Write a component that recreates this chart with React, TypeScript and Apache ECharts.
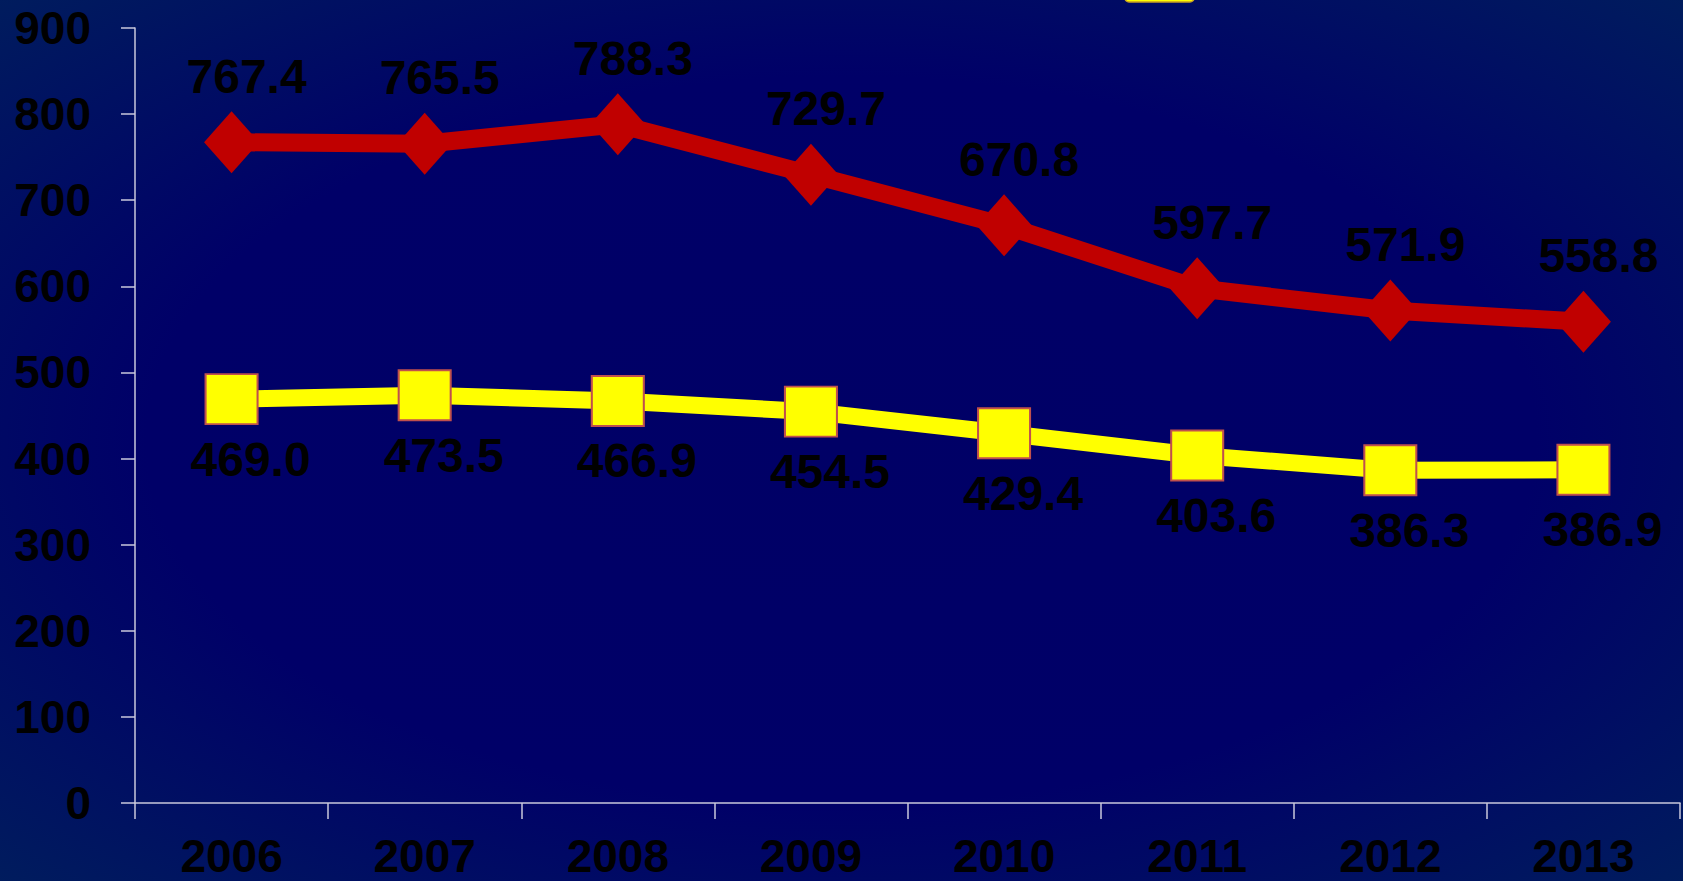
import React, { useEffect, useRef } from "react";
import * as echarts from "echarts";

const categories = ["2006", "2007", "2008", "2009", "2010", "2011", "2012", "2013"];
const redValues = [767.4, 765.5, 788.3, 729.7, 670.8, 597.7, 571.9, 558.8];
const yellowValues = [469.0, 473.5, 466.9, 454.5, 429.4, 403.6, 386.3, 386.9];
const yTicks = { min: 0, max: 900, interval: 100 };

const FONT = "'Liberation Sans', Arial, sans-serif";

export default function App() {
  const ref = useRef<HTMLDivElement>(null);
  useEffect(() => {
    document.body.style.margin = "0";
    if (!ref.current) return;
    const chart = echarts.init(ref.current, null, { renderer: "svg" });
    chart.setOption({
      animation: false,
      backgroundColor: new echarts.graphic.RadialGradient(0.5, 0.5, 0.75, [
        { offset: 0, color: "#000066" },
        { offset: 0.55, color: "#000068" },
        { offset: 1, color: "#00205c" },
      ]),
      grid: { left: 135, right: 3, top: 28, bottom: 78, containLabel: false },
      graphic: [
        {
          type: "rect",
          shape: { x: 1125, y: -40, width: 69, height: 42, r: 4 },
          style: { fill: "#ffff00", stroke: "#c8a020", lineWidth: 1.5 },
        },
      ],
      xAxis: {
        type: "category",
        data: categories,
        boundaryGap: true,
        axisLine: { show: true, lineStyle: { color: "#c8c8dc", width: 1.5 } },
        axisTick: { show: true, alignWithLabel: false, length: 16, lineStyle: { color: "#c8c8dc", width: 1.5 } },
        axisLabel: {
          color: "#000",
          fontSize: 46,
          fontWeight: "bold",
          fontFamily: FONT,
          margin: 30,
        },
        splitLine: { show: false },
      },
      yAxis: {
        type: "value",
        min: yTicks.min,
        max: yTicks.max,
        interval: yTicks.interval,
        axisLine: { show: true, lineStyle: { color: "#c8c8dc", width: 1.5 } },
        axisTick: { show: true, length: 14, lineStyle: { color: "#c8c8dc", width: 1.5 } },
        axisLabel: {
          color: "#000",
          fontSize: 46,
          fontWeight: "bold",
          fontFamily: FONT,
          margin: 44,
        },
        splitLine: { show: false },
      },
      series: [
        {
          name: "Series A",
          type: "line",
          data: redValues,
          symbol: "diamond",
          symbolSize: [55, 62],
          lineStyle: { color: "#c00000", width: 18 },
          itemStyle: { color: "#c00000" },
          label: {
            show: true,
            position: "inside",
            offset: [15, -66],
            color: "#000",
            fontSize: 48,
            fontWeight: "bold",
            fontFamily: FONT,
            formatter: (p: any) => Number(p.value).toFixed(1),
          },
          z: 3,
        },
        {
          name: "Series B",
          type: "line",
          data: yellowValues,
          symbol: "rect",
          symbolSize: [52, 50],
          lineStyle: { color: "#ffff00", width: 17 },
          itemStyle: { color: "#ffff00", borderColor: "#c0504d", borderWidth: 2 },
          label: {
            show: true,
            position: "inside",
            offset: [19, 60],
            color: "#000",
            fontSize: 48,
            fontWeight: "bold",
            fontFamily: FONT,
            formatter: (p: any) => Number(p.value).toFixed(1),
          },
          z: 2,
        },
      ],
    });
    return () => chart.dispose();
  }, []);
  return <div ref={ref} style={{ width: 1683, height: 881 }} />;
}
